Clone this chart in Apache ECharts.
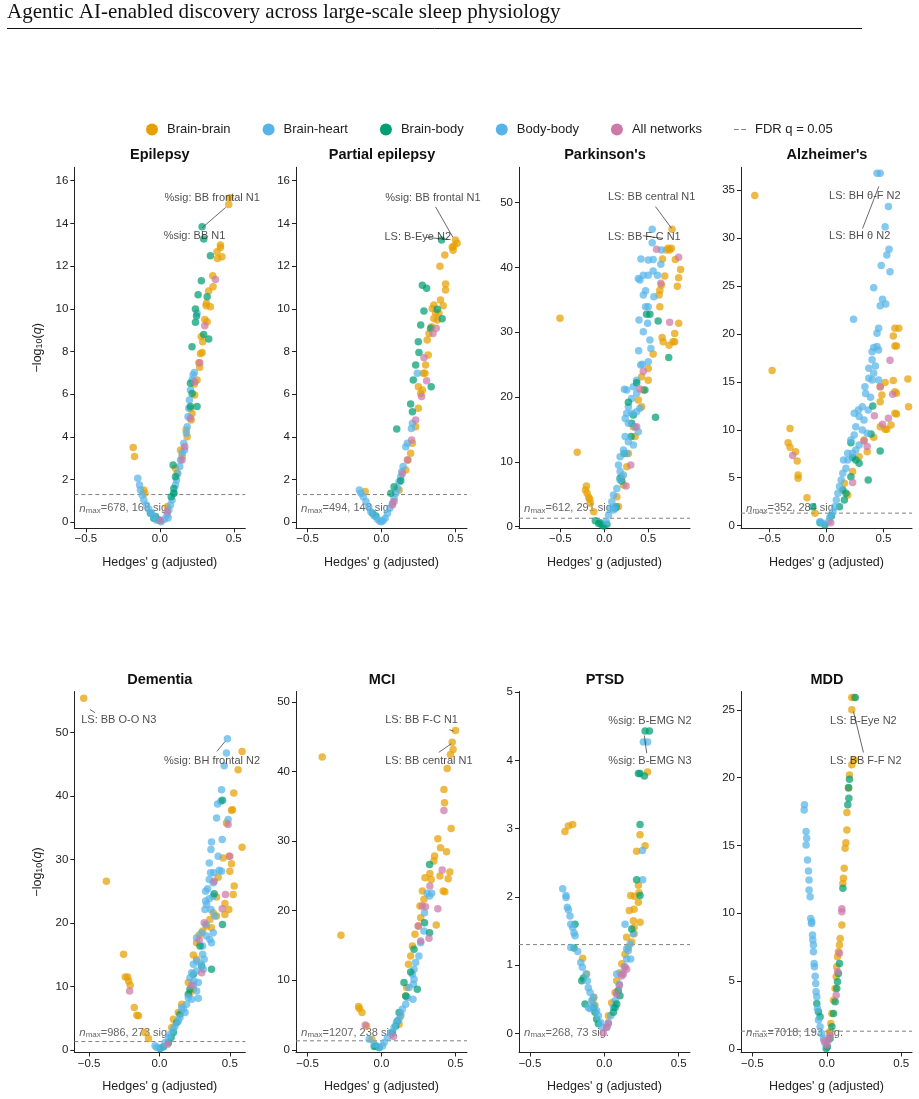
<!DOCTYPE html>
<html><head><meta charset="utf-8">
<script src="https://cdn.jsdelivr.net/npm/echarts@6.0.0/dist/echarts.min.js"></script>
<style>html,body{margin:0;padding:0;background:#fff}#chart{width:919px;height:1099px}</style>
</head><body><div id="chart"></div>
<script>
// network groups and colours
var groups = ['Brain-brain','Brain-heart','Brain-body','Body-body','All networks'];
var groupColors = ['#E69F00','#56B4E9','#009E73','#56B4E9','#CC79A7'];
var panelTitles = ['Epilepsy','Partial epilepsy',"Parkinson's","Alzheimer's",'Dementia','MCI','PTSD','MDD'];
var nMax = [678,494,612,352,986,1207,268,7018];
var nSig = [168,148,291,284,273,238,73,193];
var fdrQ = 0.05;
var xTicks = [-0.5,0,0.5];
var yTicks = [[0,2,4,6,8,10,12,14,16],[0,2,4,6,8,10,12,14,16],[0,10,20,30,40,50],[0,5,10,15,20,25,30,35],
  [0,10,20,30,40,50],[0,10,20,30,40,50],[0,1,2,3,4,5],[0,5,10,15,20,25]];
var xLims = [[-0.578,0.578],[-0.578,0.578],[-0.97,0.975],[-0.75,0.75],[-0.605,0.61],[-0.578,0.578],[-0.574,0.576],[-0.576,0.572]];
var yLims = [[-0.28,16.63],[-0.28,16.63],[-0.25,55.46],[-0.28,37.4],[-0.42,56.45],[-0.38,51.5],[-0.28,5.01],[-0.27,26.35]];

// Epilepsy
var epiBB = [[0.466,14.89],[0.473,15.2],[0.41,12.99],[0.41,12.87],[0.387,12.68],[0.42,12.44],[0.39,12.36],[0.358,11.55],[0.36,11.04],[0.33,10.83],[0.315,10.26],[0.342,10.1],[0.313,10.15],[0.304,9.5],[0.32,9.4],[0.28,8.7],[0.29,8.46],[0.286,7.96],[0.275,7.9],[0.264,7.48],[0.27,7.26],[0.252,6.67],[0.234,6.48],[0.236,5.96],[0.207,5.34],[0.218,5.1],[0.212,4.79],[0.178,4.32],[0.185,4.01],[0.14,3.39],[0.151,3.08],[0.106,2.53],[0.117,2.29],[-0.18,3.51],[-0.171,3.08],[-0.108,1.51],[-0.101,1.36],[0.05,0.73]];
var epiBH = [[0.252,9.79],[0.234,7.02],[0.225,6.9],[0.207,6.2],[0.218,6.67],[0.2,5.73],[0.196,5.34],[0.191,4.95],[0.185,4.48],[0.18,4.17],[0.162,3.7],[0.167,3.39],[0.151,3.23],[0.14,2.92],[0.135,2.61],[0.122,2.29],[0.113,1.98],[0.106,1.75],[0.095,1.36],[0.083,1.05],[0.072,0.81],[0.061,0.58],[0.05,0.34],[0.032,0.14],[0.056,0.2]];
var epiBbody = [[0.286,13.85],[0.297,13.27],[0.342,12.49],[0.281,11.32],[0.259,10.66],[0.32,10.57],[0.241,9.99],[0.248,9.66],[0.241,9.37],[0.297,8.8],[0.331,8.59],[0.218,8.23],[0.207,6.51],[0.218,6.04],[0.207,5.42],[0.252,5.42],[0.09,2.69],[0.106,2.14],[0.095,1.59],[0.095,1.36],[0.077,1.2],[-0.063,0.42],[-0.029,0.27],[-0.041,0.19],[-0.007,0.11]];
var epiBoBo = [[-0.149,2.06],[-0.137,1.75],[-0.131,1.51],[-0.119,1.28],[-0.108,1.05],[-0.09,0.81],[-0.074,0.61],[-0.056,0.42],[-0.041,0.27],[-0.023,0.11],[0.009,0.03]];
var epiAll = [[0.376,11.38],[0.304,9.21],[0.27,7.48],[0.236,6.59],[0.207,4.87],[0.151,2.92],[0.169,3.54],[0.05,0.5],[0.005,0.08]];

// Partial epilepsy
var parBB = [[0.5,13.22],[0.489,12.94],[0.478,12.88],[0.511,13.07],[0.484,12.75],[0.428,12.52],[0.395,12.0],[0.433,11.16],[0.433,10.88],[0.399,10.41],[0.417,10.15],[0.354,10.18],[0.343,10.02],[0.388,9.79],[0.365,9.82],[0.377,9.48],[0.354,9.55],[0.339,9.16],[0.321,8.85],[0.309,8.54],[0.316,7.84],[0.298,7.37],[0.283,6.98],[0.294,6.98],[0.249,6.35],[0.276,6.2],[0.265,6.04],[0.249,5.34],[0.231,4.48],[0.209,3.7],[0.197,3.23],[0.179,2.92],[0.164,2.45],[0.119,1.51],[-0.11,1.44]];
var parBH = [[0.242,6.98],[0.209,4.64],[0.202,4.4],[0.175,3.7],[0.164,3.54],[0.146,2.61],[0.137,2.37],[0.13,2.14],[0.119,1.9],[0.108,1.59],[0.096,1.36],[0.085,1.12],[0.074,0.89],[0.056,0.66],[0.04,0.42],[0.025,0.19],[0.011,0.08]];
var parBbody = [[0.406,13.22],[0.276,11.11],[0.305,10.96],[0.377,9.98],[0.287,9.9],[0.41,9.54],[0.332,9.09],[0.265,9.24],[0.249,8.46],[0.253,7.95],[0.231,7.37],[0.215,6.67],[0.336,6.35],[0.197,5.54],[0.209,5.18],[0.103,4.37],[0.13,1.95],[0.085,1.67],[-0.038,0.3],[-0.061,0.42],[0.063,1.36]];
var parBoBo = [[-0.15,1.51],[-0.139,1.36],[-0.123,1.2],[-0.105,0.97],[-0.087,0.73],[-0.072,0.5],[-0.049,0.3],[-0.027,0.14],[-0.011,0.05],[0,0.03]];
var parAll = [[0.37,9.09],[0.348,8.85],[0.287,7.71],[0.305,6.63],[0.271,5.89],[0.231,4.79],[0.204,3.86],[0.175,2.92],[0.141,2.29],[0.085,0.97],[0.074,0.81]];

// Parkinson's
var pdBB = [[0.771,45.9],[0.726,42.95],[0.744,42.7],[0.763,42.95],[0.707,42.7],[0.662,41.3],[0.808,41.25],[0.868,39.7],[0.688,38.7],[0.846,38.4],[0.831,37.1],[0.65,37.3],[0.632,36.5],[0.624,35.75],[0.632,33.95],[0.846,31.4],[0.801,29.8],[0.782,28.55],[0.801,28.55],[0.737,28.0],[0.658,29.2],[0.669,28.55],[0.556,26.65],[0.5,24.4],[0.5,22.6],[0.425,23.15],[0.444,21.1],[0.387,19.55],[0.425,18.5],[0.331,15.4],[0.35,13.9],[0.274,11.3],[0.256,9.26],[0.199,7.7],[0.218,6.43],[0.143,4.6],[0.162,3.1],[-0.504,32.15],[-0.308,11.5],[-0.203,6.28],[-0.214,5.66],[-0.195,5.14],[-0.177,4.53],[-0.165,4.22],[-0.12,2.31],[-0.158,3.6]];
var pdBH = [[0.545,45.9],[0.545,43.8],[0.65,42.7],[0.417,41.3],[0.5,41.15],[0.556,41.25],[0.643,40.5],[0.556,39.45],[0.5,38.8],[0.444,38.8],[0.387,38.3],[0.406,38.05],[0.605,38.8],[0.47,36.4],[0.444,35.75],[0.564,35.5],[0.47,33.95],[0.5,33.95],[0.395,31.9],[0.493,31.4],[0.444,30.1],[0.519,28.8],[0.53,27.5],[0.391,27.15],[0.5,25.46],[0.432,25.05],[0.414,24.95],[0.368,22.6],[0.331,21.6],[0.256,21.1],[0.229,21.2],[0.368,20.6],[0.312,19.8],[0.274,18.5]];
var pdBbody = [[0.481,32.8],[0.519,32.8],[0.613,31.75],[0.733,26.1],[0.583,16.87],[0.368,22.2],[0.462,21.1],[0.274,19.2],[0.331,17.23],[0.312,15.95],[0.305,13.9],[0.226,11.3],[0.18,7.46],[0.199,7.05],[0.135,3.08],[0.124,2.83],[-0.102,0.93],[-0.064,0.51],[-0.026,0.26],[-0.008,0.1],[-0.045,0.62],[0.03,0.36]];
var pdBoBo = [[0.256,17.5],[0.312,17.5],[0.368,17.75],[0.406,18.26],[0.237,16.7],[0.274,15.95],[0.35,15.4],[0.387,14.66],[0.237,13.9],[0.274,13.1],[0.331,12.6],[0.218,11.83],[0.256,11.3],[0.18,10.8],[0.162,9.5],[0.18,8.5],[0.218,7.97],[0.18,7.2],[0.143,5.9],[0.105,4.9],[0.086,3.86],[0.068,2.83],[0.049,1.8],[0.023,0.77],[0.124,3.08],[0.105,2.57]];
var pdAll = [[0.846,41.56],[0.594,42.8],[0.643,37.55],[0.744,31.53],[0.444,23.97],[0.406,21.24],[0.368,15.43],[0.301,9.52],[0.248,6.28]];

// Alzheimer's
var adBB = [[-0.629,34.45],[-0.477,16.18],[-0.32,10.13],[-0.337,8.66],[-0.32,8.18],[-0.271,7.72],[-0.257,6.75],[-0.249,5.29],[-0.249,4.94],[-0.171,2.92],[-0.1,1.29],[0.757,22.44],[0.634,20.6],[0.6,20.6],[0.586,19.8],[0.6,18.75],[0.614,18.75],[0.714,15.3],[0.586,15.15],[0.514,14.93],[0.471,14.5],[0.6,13.98],[0.614,13.81],[0.486,13.64],[0.471,12.94],[0.72,12.42],[0.614,11.66],[0.6,11.73],[0.566,10.51],[0.471,10.33],[0.529,10.06],[0.514,10.06],[0.414,9.22],[0.329,8.94],[0.357,7.72],[0.286,7.2],[0.229,5.64],[0.157,4.42],[0.186,3.2]];
var adBH = [[0.443,36.78],[0.471,36.78],[0.543,33.3],[0.514,31.2],[0.549,28.85],[0.529,28.25],[0.48,27.14],[0.557,26.5],[0.414,24.84],[0.491,23.62],[0.52,23.14],[0.471,22.96],[0.237,21.54],[0.457,20.6],[0.443,20.08],[0.414,18.6],[0.443,18.7],[0.457,18.34],[0.4,18.16],[0.4,17.3],[0.429,16.67],[0.371,16.42],[0.414,15.9],[0.371,15.38],[0.337,14.5],[0.4,15.2],[0.457,15.2],[0.343,13.8],[0.386,13.4],[0.314,12.42],[0.366,12.07],[0.286,11.38],[0.28,12.07],[0.243,11.73],[0.329,11.03]];
var adBbody = [[0.214,8.66],[0.406,12.49],[0.391,9.57],[0.471,7.79],[0.366,4.77],[0.229,7.1],[0.257,6.85],[0.286,6.5],[0.214,5.11],[0.143,3.72],[0.171,3.38],[0.157,2.68],[0.114,1.98],[0.043,1.01],[-0.014,0.07],[-0.12,1.98],[-0.057,0.31]];
var adBoBo = [[0.257,10.33],[0.314,9.99],[0.357,9.64],[0.243,9.46],[0.214,8.94],[0.286,8.42],[0.257,7.9],[0.186,7.55],[0.229,7.55],[0.186,6.85],[0.149,6.85],[0.171,5.98],[0.143,5.46],[0.129,4.77],[0.114,4.07],[0.1,3.38],[0.086,2.68],[0.071,1.98],[0.057,1.46],[0.029,0.87],[-0.057,0.42],[-0.029,0.24],[0.023,0.49]];
var adAll = [[0.557,17.26],[0.471,14.5],[0.58,13.71],[0.42,11.48],[0.543,11.2],[0.491,10.58],[0.329,8.84],[0.357,8.25],[0.229,4.49],[0.037,0.31],[-0.297,7.31]];

// Dementia
var demBB = [[-0.538,55.4],[-0.377,26.57],[-0.255,15.04],[-0.243,11.48],[-0.226,11.48],[-0.219,10.85],[-0.208,10.17],[-0.179,6.66],[-0.16,5.45],[-0.149,5.35],[-0.106,2.73],[-0.078,1.78],[0.587,47.01],[0.559,44.13],[0.528,40.46],[0.519,37.84],[0.512,37.74],[0.476,35.74],[0.587,31.92],[0.453,30.24],[0.495,30.5],[0.512,29.3],[0.5,28.14],[0.531,25.79],[0.524,24.48],[0.417,27.2],[0.465,23.06],[0.493,22.12],[0.465,21.33],[0.406,24.06],[0.382,21.6],[0.358,20.55],[0.406,21.07],[0.335,19.5],[0.37,19.23],[0.307,18.71],[0.283,18.08],[0.264,16.88],[0.241,14.94],[0.264,14.26],[0.205,10.59],[0.241,9.54],[0.217,9.01],[0.158,7.18],[0.134,5.87],[0.099,4.82],[0.087,3.51]];
var demBH = [[0.483,49.0],[0.476,46.75],[0.46,44.76],[0.441,40.99],[0.436,39.15],[0.413,38.73],[0.406,36.53],[0.488,36.27],[0.446,33.12],[0.37,32.76],[0.366,31.55],[0.354,29.45],[0.417,30.5],[0.425,28.3],[0.441,28.14],[0.363,27.88],[0.387,27.88],[0.354,26.83],[0.382,26.31],[0.342,25.37],[0.328,25.0],[0.354,23.79],[0.382,24.21],[0.328,23.43],[0.335,22.9],[0.394,21.07],[0.366,22.12],[0.323,22.12],[0.33,19.76],[0.3,18.45],[0.264,17.66],[0.335,17.92],[0.307,16.35],[0.382,18.45],[0.358,17.4],[0.37,16.88]];
var demBbody = [[0.448,39.31],[0.389,24.58],[0.448,19.76],[0.37,12.68],[0.3,13.21],[0.241,11.9],[0.205,8.75],[0.217,9.54],[0.146,5.61],[0.123,4.3],[0.099,2.73],[0.083,1.94],[0.064,1.15],[0.028,0.47],[0.005,0.21],[0.288,16.35]];
var demBoBo = [[0.307,15.04],[0.318,14.26],[0.264,13.99],[0.295,13.47],[0.241,13.47],[0.264,12.42],[0.311,12.68],[0.229,12.16],[0.217,11.37],[0.245,10.85],[0.276,10.59],[0.241,10.17],[0.264,9.28],[0.276,8.12],[0.205,8.23],[0.229,7.97],[0.193,7.18],[0.17,6.39],[0.158,6.66],[0.182,5.87],[0.146,5.08],[0.134,4.56],[0.111,3.77],[0.099,3.25],[0.075,2.46],[0.064,1.94],[0.04,1.15],[-0.031,0.63],[-0.019,0.37],[0.017,0.37]];
var demAll = [[0.488,35.48],[0.5,30.5],[0.389,26.57],[0.469,24.48],[0.446,22.22],[0.318,20.02],[0.283,17.3],[0.3,12.16],[0.229,10.17],[-0.212,9.28],[0.059,0.89]];

// MCI
var mciBB = [[-0.401,42.1],[-0.274,16.46],[-0.155,6.22],[-0.15,5.93],[-0.132,5.36],[-0.065,1.53],[-0.101,3.44],[0.5,45.89],[0.478,44.21],[0.484,43.16],[0.466,42.44],[0.444,40.43],[0.422,37.42],[0.426,35.5],[0.471,31.82],[0.381,30.33],[0.399,29.04],[0.44,28.47],[0.359,27.85],[0.354,27.13],[0.327,25.36],[0.294,24.74],[0.336,24.5],[0.395,24.98],[0.462,25.55],[0.451,24.59],[0.417,22.82],[0.428,22.73],[0.276,22.82],[0.287,21.63],[0.26,20.67],[0.265,19.0],[0.249,17.8],[0.226,16.6],[0.37,17.94],[0.209,14.93],[0.197,13.49],[0.182,12.3],[0.17,8.95],[0.164,7.75],[0.13,4.88],[0.119,3.68]];
var mciBH = [[0.339,22.49],[0.325,22.1],[0.309,22.49],[0.291,19.71],[0.287,17.08],[0.265,15.41],[0.253,13.49],[0.231,12.54],[0.209,10.86],[0.22,10.14],[0.215,9.43],[0.186,8.95],[0.175,7.51],[0.164,6.56],[0.213,7.27],[0.22,11.58]];
var mciBbody = [[0.325,26.65],[0.291,18.28],[0.325,16.84],[0.22,14.45],[0.197,11.2],[0.152,9.67],[0.242,8.71],[0.164,7.75],[0.119,5.36],[0.108,4.16],[0.096,3.44],[0.074,2.49],[-0.038,0.57],[-0.016,0.33],[-0.049,0.48]];
var mciBoBo = [[0.141,5.84],[0.13,5.12],[0.119,4.4],[0.101,3.92],[0.085,3.21],[0.063,2.49],[0.04,1.77],[0.018,1.05],[0.007,0.57],[-0.083,1.53],[-0.049,0.81],[-0.016,0.33]];
var mciAll = [[0.422,34.4],[0.41,25.84],[0.327,23.54],[0.276,20.67],[0.298,20.57],[0.381,20.29],[0.249,17.8],[0.321,16.03],[0.265,15.65],[-0.11,3.59],[0.081,1.91]];

// PTSD
var ptsdBB = [[-0.265,2.96],[-0.242,3.04],[-0.213,3.06],[-0.146,1.1],[-0.119,0.87],[-0.078,0.48],[-0.063,0.41],[-0.07,0.53],[0.291,3.83],[0.24,2.91],[0.274,2.75],[0.217,2.67],[0.229,2.17],[0.233,2.06],[0.229,1.92],[0.177,2.02],[0.202,2.01],[0.2,1.82],[0.168,1.8],[0.195,1.65],[0.24,1.63],[0.2,1.55],[0.15,1.41],[0.161,1.26],[0.139,1.16],[0.117,1.02],[0.105,0.89],[0.083,0.77],[0.072,0.6],[0.049,0.45],[0.027,0.26],[0.184,1.34],[0.2,1.46]];
var ptsdBH = [[0.262,4.27],[0.291,4.27],[0.256,2.68],[0.258,2.25],[0.016,0.09],[0.027,0.16],[0.043,0.26],[0.061,0.38],[0.072,0.48],[0.083,0.58],[0.101,0.72],[0.117,0.87],[0.135,0.98],[0.15,1.09],[0.161,1.21],[0.173,1.31],[0.195,1.46],[0.139,1.6],[0.15,1.24],[0.177,1.09],[0.083,0.87]];
var ptsdBbody = [[0.274,4.43],[0.303,4.43],[0.229,3.81],[0.24,3.81],[0.269,3.77],[0.24,3.06],[0.217,2.25],[0.24,2.02],[0.184,1.53],[-0.197,1.6],[-0.204,1.25],[-0.152,0.77],[-0.141,0.81],[-0.13,0.43],[-0.074,0.38],[-0.063,0.31],[-0.052,0.21],[-0.04,0.14],[0.072,0.38],[0.061,0.31],[0.083,0.43],[0.105,0.55],[0.094,0.63]];
var ptsdBoBo = [[-0.28,2.12],[-0.258,2.02],[-0.258,1.99],[-0.249,1.85],[-0.242,1.81],[-0.231,1.72],[-0.226,1.6],[-0.213,1.55],[-0.204,1.47],[-0.197,1.43],[-0.226,1.26],[-0.179,1.2],[-0.159,1.04],[-0.148,0.97],[-0.123,0.87],[-0.114,0.77],[-0.108,0.67],[-0.096,0.6],[-0.074,0.53],[-0.085,0.48],[-0.07,0.41],[-0.052,0.33],[-0.04,0.26],[-0.025,0.16],[-0.013,0.09],[-0.096,0.36],[-0.108,0.38]];
var ptsdAll = [[0.139,0.97],[0.128,0.87],[0.15,0.94],[0.117,0.84],[0.101,0.7],[0.083,0.58],[0.027,0.14],[0.016,0.09],[-0.007,0.01]];

// MDD
var mddBB = [[0.168,25.91],[0.184,25.91],[0.168,25.0],[0.184,21.31],[0.168,20.94],[0.152,20.2],[0.146,19.22],[0.135,17.42],[0.135,16.14],[0.128,15.2],[0.123,14.79],[0.117,13.31],[0.112,12.57],[0.108,12.2],[0.101,9.13],[0.09,8.14],[0.085,7.65],[0.078,7.16],[0.072,6.79],[0.067,6.05],[0.063,5.31],[0.056,4.45],[0.045,3.59],[0.034,2.61],[0.027,1.87],[0.018,1.25]];
var mddBH = [[-0.15,17.99],[-0.152,17.62],[-0.139,16.02],[-0.135,15.53],[-0.139,15.03],[-0.13,13.93],[-0.123,13.12],[-0.119,12.45],[-0.119,11.71],[-0.112,11.22],[-0.108,9.62],[-0.101,9.38],[-0.103,9.25],[-0.096,8.39],[-0.094,8.02],[-0.09,7.65],[-0.09,7.16]];
var mddBbody = [[0.191,25.91],[0.152,19.88],[0.146,19.27],[0.148,18.48],[0.141,17.99],[0.108,11.84],[0.085,6.3],[0.078,5.56],[0.072,4.95],[0.067,4.45],[0.056,3.47],[0.045,2.61],[0.034,1.62],[0.022,0.76],[0.004,0.15],[-0.004,0.02],[-0.067,3.35],[-0.056,2.73],[-0.045,2.36]];
var mddBoBo = [[-0.085,6.3],[-0.083,6.05],[-0.078,5.36],[-0.074,4.82],[-0.072,4.21],[-0.067,3.84],[-0.063,2.98],[-0.056,2.12],[-0.045,1.62],[-0.034,1.13],[-0.022,0.76],[-0.011,0.39]];
var mddAll = [[0.101,10.33],[0.101,10.11],[0.085,7.04],[0.072,5.68],[0.063,3.96],[0.022,1.01],[0.011,0.64],[-0.018,0.59],[0,0.27]];

var panelData = [
  [epiBB,epiBH,epiBbody,epiBoBo,epiAll],[parBB,parBH,parBbody,parBoBo,parAll],
  [pdBB,pdBH,pdBbody,pdBoBo,pdAll],[adBB,adBH,adBbody,adBoBo,adAll],
  [demBB,demBH,demBbody,demBoBo,demAll],[mciBB,mciBH,mciBbody,mciBoBo,mciAll],
  [ptsdBB,ptsdBH,ptsdBbody,ptsdBoBo,ptsdAll],[mddBB,mddBH,mddBbody,mddBoBo,mddAll]];

// point labels: [text, x, y] and leader lines [x1,y1,x2,y2]
var annLabels = [
  [['%sig: BB frontal N1',0.032,15.2],['%sig: BB N1',0.026,13.4]],
  [['%sig: BB frontal N1',0.025,15.2],['LS: B-Eye N2',0.02,13.35]],
  [['LS: BB central N1',0.042,50.9],['LS: BB F-C N1',0.042,44.75]],
  [['LS: BH θ-F N2',0.023,34.4],['LS: BH θ N2',0.023,30.2]],
  [['LS: BB O-O N3',-0.556,51.9],['%sig: BH frontal N2',0.033,45.55]],
  [['LS: BB F-C N1',0.025,47.35],['LS: BB central N1',0.025,41.55]],
  [['%sig: B-EMG N2',0.027,4.575],['%sig: B-EMG N3',0.027,3.99]],
  [['LS: B-Eye N2',0.022,24.2],['LS: BB F-F N2',0.022,21.25]]];
var annLines = [
  [[0.287,13.8,0.445,14.75]],
  [[0.365,14.78,0.483,13.35],[0.297,13.35,0.454,13.25]],
  [[0.582,49.4,0.765,46.05],[0.44,44.9,0.66,44.5]],
  [[0.316,31.0,0.459,35.4]],
  [[-0.493,53.6,-0.457,53.1],[0.408,47.0,0.467,48.6]],
  [[0.459,46.0,0.488,45.8],[0.387,42.75,0.472,44.0]],
  [[0.269,4.365,0.285,4.105]],
  [[0.179,24.87,0.246,21.85]]];

var FONT = '"Liberation Sans", Arial, Helvetica, sans-serif';
var gridLefts = [74.3,296,519,741], gridTops = [167.3,691.5], gridW = 171, gridH = 361;
var fdrLine = -Math.log10(fdrQ);

function fmtX(v){ return v < 0 ? '\u2212' + Math.abs(v).toFixed(1) : v.toFixed(1); }

var grids=[], xAxes=[], yAxes=[], series=[], graphics=[];
graphics.push({type:'text', x:7, y:12.5, style:{text:'Agentic AI-enabled discovery across large-scale sleep physiology',
  font:'21px "Liberation Serif", "DejaVu Serif", serif', fill:'#111', verticalAlign:'middle'}});
graphics.push({type:'line', shape:{x1:7,y1:28.5,x2:862,y2:28.5}, style:{stroke:'#111', lineWidth:1}});

for (var i=0;i<8;i++){
  var col=i%4, row=Math.floor(i/4);
  var gl=gridLefts[col], gt=gridTops[row];
  grids.push({left:gl, top:gt, width:gridW, height:gridH, containLabel:false});
  xAxes.push({gridIndex:i, type:'value', min:xLims[i][0], max:xLims[i][1],
    axisLine:{show:true, onZero:false, lineStyle:{color:'#222', width:1}},
    axisTick:{show:true, length:4, customValues:xTicks, lineStyle:{color:'#222'}},
    axisLabel:{customValues:xTicks, formatter:fmtX, fontSize:11.5, color:'#222', margin:5, fontFamily:FONT},
    splitLine:{show:false},
    name:"Hedges' g (adjusted)", nameLocation:'middle', nameGap:28,
    nameTextStyle:{fontSize:12.5, color:'#222', fontFamily:FONT}});
  var ya = {gridIndex:i, type:'value', min:yLims[i][0], max:yLims[i][1],
    axisLine:{show:true, onZero:false, lineStyle:{color:'#222', width:1}},
    axisTick:{show:true, length:4, customValues:yTicks[i], lineStyle:{color:'#222'}},
    axisLabel:{customValues:yTicks[i], fontSize:11.5, color:'#222', margin:6, fontFamily:FONT},
    splitLine:{show:false}};
  if (col===0){
    ya.name='{a|\u2212log}{s|10}{a|(}{i|q}{a|)}';
    ya.nameLocation='middle'; ya.nameGap=30; ya.nameRotate=90;
    ya.nameTextStyle={fontFamily:FONT, rich:{a:{fontSize:12.5,color:'#222',fontFamily:FONT},
      s:{fontSize:9,color:'#222',fontFamily:FONT,padding:[5,0,0,0]},
      i:{fontSize:12.5,color:'#222',fontStyle:'italic',fontFamily:FONT}}};
  }
  yAxes.push(ya);

  series.push({type:'line', name:'FDR q = 0.05', xAxisIndex:i, yAxisIndex:i, silent:true,
    data:[[xLims[i][0],fdrLine],[xLims[i][1],fdrLine]], symbol:'none', z:1,
    itemStyle:{color:'#808080'}, lineStyle:{color:'#808080', width:1, type:[4,3]}});
  for (var g=0; g<groups.length; g++){
    series.push({type:'scatter', name:groups[g], xAxisIndex:i, yAxisIndex:i, silent:true,
      data:panelData[i][g], symbolSize:7.5, z:2,
      itemStyle:{color:groupColors[g], opacity:0.72}});
  }
  series.push({type:'scatter', name:'labels'+i, xAxisIndex:i, yAxisIndex:i, silent:true, z:5,
    symbolSize:0,
    data:annLabels[i].map(function(l){ return {name:l[0], value:[l[1],l[2]]}; }),
    label:{show:true, position:'right', distance:0, formatter:'{b}', fontSize:11, color:'#222', fontFamily:FONT},
    markLine:{silent:true, symbol:'none', animation:false, label:{show:false},
      lineStyle:{color:'#444', width:0.8, type:'solid'},
      data:annLines[i].map(function(l){ return [{coord:[l[0],l[1]]},{coord:[l[2],l[3]]}]; })}});

  graphics.push({type:'text', x:gl+(col===0?85.5:86), y:gt-12, style:{text:panelTitles[i],
    font:'bold 14.5px '+FONT, fill:'#111', align:'center', verticalAlign:'middle'}});
  graphics.push({type:'text', x:gl+5, y:gt+gridH-20, z:-1, style:{
    text:'{i|n}{s|max}{t|='+nMax[i]+', '+nSig[i]+' sig.}', verticalAlign:'middle',
    rich:{i:{font:'italic 11.5px '+FONT, fill:'#666'}, s:{font:'8px '+FONT, fill:'#666', padding:[5,0,0,0]},
      t:{font:'11px '+FONT, fill:'#666'}}}});
}

var chart = echarts.init(document.getElementById('chart'), null, {renderer:'canvas'});
chart.setOption({
  animation:false,
  backgroundColor:'#fff',
  textStyle:{fontFamily:FONT},
  legend:{left:141, top:118, itemWidth:12, itemHeight:12, itemGap:32,
    textStyle:{fontSize:13, color:'#222', fontFamily:FONT, padding:[0,0,0,4]},
    itemStyle:{opacity:1},
    data:[{name:'Brain-brain',icon:'circle'},{name:'Brain-heart',icon:'circle'},{name:'Brain-body',icon:'circle'},
      {name:'Body-body',icon:'circle'},{name:'All networks',icon:'circle'},
      {name:'FDR q = 0.05',icon:'path://M0 0H6V1.4H0Z M9 0H15V1.4H9Z'}]},
  grid:grids, xAxis:xAxes, yAxis:yAxes, series:series, graphic:graphics
});
</script></body></html>
